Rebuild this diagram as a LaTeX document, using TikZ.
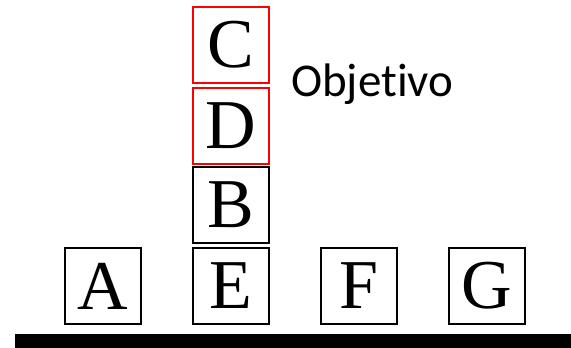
\documentclass[tikz,border=0pt]{standalone}
\usepackage{fontspec}
\setmainfont{Liberation Serif}
\newfontfamily\goalfont[Ligatures=NoCommon]{Carlito}
\usepackage{xcolor}

\begin{document}
\begin{tikzpicture}[x=1pt,y=1pt,
    block/.style={draw,line width=2pt,minimum width=76pt,minimum height=76pt,
                  inner sep=0pt,font=\fontsize{70}{70}\selectfont},
    goal/.style={block,draw=red}]
\useasboundingbox (0,0) rectangle (571,348);
% ground
\fill (15,0) rectangle (571,14);
% blocks on the table
\node[block] (a) at (103,62) {A};
\node[block] (e) at (231,62) {E};
\node[block] (f) at (358.5,62) {F};
\node[block] (g) at (486.5,62) {G};
% stack
\node[block] (b) at (231,143) {B};
\node[goal]  (d) at (231,222) {D};
\node[goal]  (c) at (231,303) {C};
% label
\node[anchor=base west,inner sep=0pt,font=\goalfont\fontsize{47}{47}\selectfont]
     (obj) at (291,251) {Objetivo};
\end{tikzpicture}
\end{document}
